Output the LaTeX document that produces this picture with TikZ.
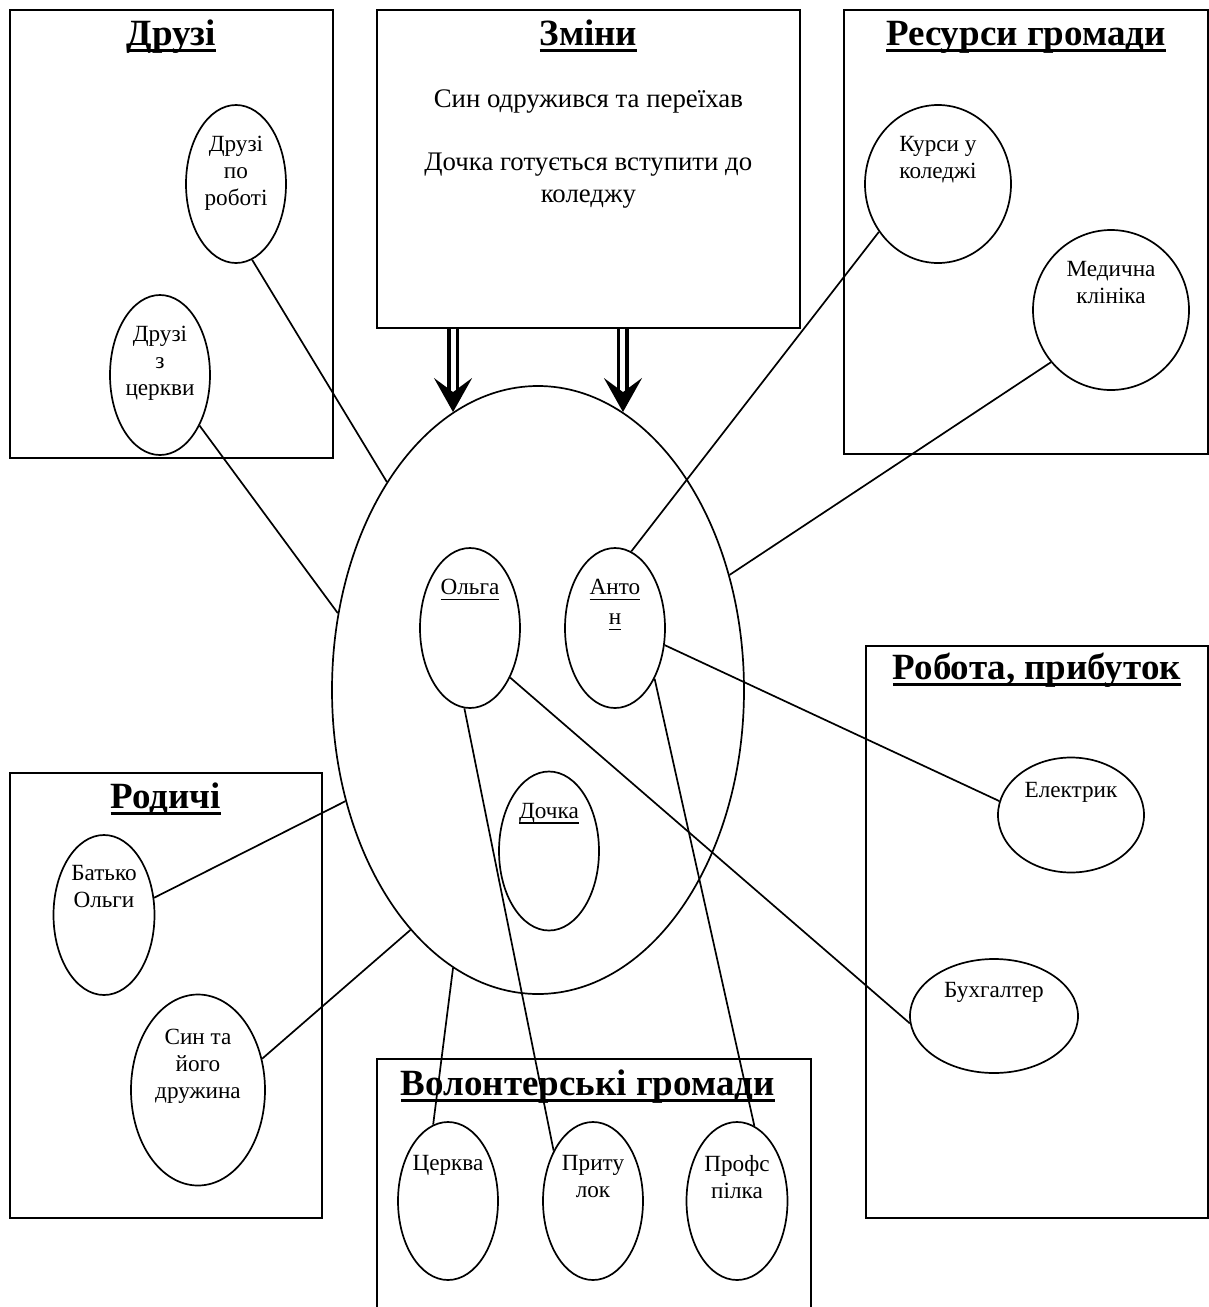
\documentclass[tikz,border=0pt]{standalone}
\usepackage{fontspec}
\setmainfont{Liberation Serif}
\usetikzlibrary{shapes.geometric,arrows.meta,positioning,calc}

\newcommand\ttlfont{\fontsize{18.5}{22}\selectfont\bfseries}
\newcommand\chgfont{\fontsize{13.4}{16}\selectfont}
\newcommand\ovalfont{\fontsize{11.6}{13.5}\selectfont}
\newcommand\ttlul[1]{{\setbox0\hbox{#1}\rlap{\rule[-3.7pt]{\wd0}{1.5pt}}\box0}}
\newcommand\nameul[1]{{\setbox0\hbox{#1}\rlap{\rule[-2.7pt]{\wd0}{0.7pt}}\box0}}

\begin{document}
\begin{tikzpicture}[
    x=0.5pt, y=-0.5pt,
    frame/.style={rectangle, draw, line width=0.85pt, anchor=north west, inner sep=0pt},
    oval/.style={ellipse, draw, line width=0.85pt, inner sep=0pt},
    title/.style={font=\ttlfont, anchor=base, inner sep=0pt},
    ovaltext/.style={font=\ovalfont, align=center, inner sep=0pt},
    link/.style={line width=0.85pt},
    dblarrow/.style={double, double distance=2.5pt, line width=1.6pt, -{Stealth[length=17pt, width=19pt, inset=7pt]}}
]
\useasboundingbox (0,0) rectangle (1209,1307);

% Boxes
\node[frame, minimum width=161.5pt, minimum height=224pt] (friends) at (9,9) {};
\node[frame, minimum width=211.5pt, minimum height=159pt] (changes) at (376,9) {};
\node[frame, minimum width=182pt, minimum height=222pt] (resources) at (843,9) {};
\node[frame, minimum width=171pt, minimum height=286pt] (job) at (865,645) {};
\node[frame, minimum width=156pt, minimum height=222.5pt] (relatives) at (9,772) {};
\node[frame, minimum width=217pt, minimum height=140pt] (volunteer) at (376,1058) {};

\node[title] (friendsT) at ($(friends.north)+(0,36)$) {\ttlul{Друзі}};
\node[title] (changesT) at ($(changes.north)+(0,36)$) {\ttlul{Зміни}};
\node[title] (resourcesT) at ($(resources.north)+(0,36)$) {\ttlul{Ресурси громади}};
\node[title] (jobT) at ($(job.north)+(0,34)$) {\ttlul{Робота, прибуток}};
\node[title] (relativesT) at ($(relatives.north)+(0,36)$) {\ttlul{Родичі}};
\node[title] (volunteerT) at ($(volunteer.north)+(-6,37)$) {\ttlul{Волонтерські громади}};

\node[font=\chgfont, align=center, inner sep=0pt, below=40pt of changes.north] (changesB) {Син одружився та переїхав\\[15.5pt]Дочка готується вступити до\\коледжу};

% Family in the middle
\node[oval, minimum width=206pt, minimum height=304pt] (family) at (538,690) {};
\node[oval, minimum width=50pt, minimum height=80pt] (olga) at (470,628) {};
\node[oval, minimum width=50pt, minimum height=80pt] (anton) at (615,628) {};
\node[oval, minimum width=50pt, minimum height=79.5pt] (daughter) at (549,851) {};
\node[ovaltext, below=16pt of olga.north] (olgaT) {\nameul{Ольга}};
\node[ovaltext, below=16pt of anton.north] (antonT) {\nameul{Анто}\\[1.5pt]\nameul{н}};
\node[ovaltext, below=16pt of daughter.north] (daughterT) {\nameul{Дочка}};

% Ovals in the boxes
\node[oval, minimum width=50pt, minimum height=79pt] (workfr) at (236,184) {};
\node[oval, minimum width=50pt, minimum height=80pt] (churchfr) at (160,375) {};
\node[oval, minimum width=73pt, minimum height=79pt] (courses) at (938,184) {};
\node[oval, minimum width=78pt, minimum height=80pt] (clinic) at (1111,310) {};
\node[oval, minimum width=73pt, minimum height=57.5pt] (electric) at (1071,815) {};
\node[oval, minimum width=84pt, minimum height=57pt] (accountant) at (994,1016) {};
\node[oval, minimum width=50.5pt, minimum height=80pt] (father) at (104,915) {};
\node[oval, minimum width=67pt, minimum height=95.5pt] (son) at (198,1090) {};
\node[oval, minimum width=50pt, minimum height=79pt] (church) at (448,1201) {};
\node[oval, minimum width=50pt, minimum height=79pt] (shelter) at (593,1201) {};
\node[oval, minimum width=50.5pt, minimum height=79pt] (union) at (737,1201) {};

\node[ovaltext, below=16pt of workfr.north] (workfrT) {Друзі\\по\\роботі};
\node[ovaltext, below=16pt of churchfr.north] (churchfrT) {Друзі\\з\\церкви};
\node[ovaltext, below=16pt of courses.north] (coursesT) {Курси у\\коледжі};
\node[ovaltext, below=16pt of clinic.north] (clinicT) {Медична\\клініка};
\node[ovaltext, below=12.5pt of electric.north] (electricT) {Електрик};
\node[ovaltext, below=12pt of accountant.north] (accountantT) {Бухгалтер};
\node[ovaltext, below=15.5pt of father.north] (fatherT) {Батько\\Ольги};
\node[ovaltext, below=17.5pt of son.north] (sonT) {Син та\\його\\дружина};
\node[ovaltext, below=17pt of church.north] (churchT) {Церква};
\node[ovaltext, below=17pt of shelter.north] (shelterT) {Приту\\лок};
\node[ovaltext, below=17pt of union.north] (unionT) {Профс\\пілка};

% Changes come down
\draw[dblarrow] (family.107 |- changes.south) -- (family.107);
\draw[dblarrow] (family.73 |- changes.south) -- (family.73);

% Links
\draw[link] (workfr.282) -- (family.126);
\draw[link] (churchfr.308) -- (family.159);
\draw[link] (courses.219) -- (anton.78);
\draw[link] (clinic.221) -- (family.31);
\draw[link] (anton.341) -- (electric.169);
\draw[link] (olga.309) -- (accountant.185);
\draw[link] (olga.266) -- (shelter.128);
\draw[link] (anton.308) -- (union.77);
\draw[link] (church.101) -- (family.253);
\draw[link] (father.19) -- (family.210);
\draw[link] (son.26) -- (family.242);

\end{tikzpicture}
\end{document}
